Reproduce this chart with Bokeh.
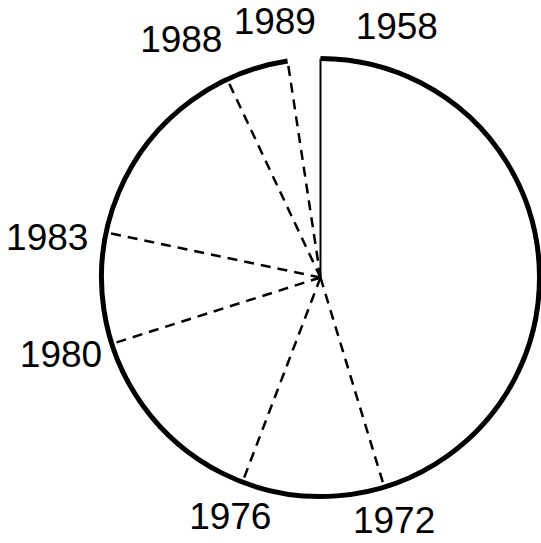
import numpy as np
from bokeh.plotting import figure
from bokeh.models import Range1d, ColumnDataSource
from bokeh.core.properties import value
from bokeh.embed import file_html
from bokeh.resources import INLINE

# ---- data ----
years = ["1958", "1972", "1976", "1980", "1983", "1988", "1989"]
shares = [45.3, 10.5, 14.3, 8.2, 14.7, 4.6, 2.4]   # last slice (1989 on) is left undrawn

# ---- layout / style (not data) ----
R = 219.0
FONT_PX = 37
W, H = 541, 543
CX, CY = 320, 277            # pie centre in figure pixels (from top-left)
# small per-label pixel nudges (x right, y down) to mimic the original label placement
label_nudge = {"1958": (-6, 3), "1972": (-1, -3), "1976": (2, -3), "1980": (2, -7),
               "1983": (-5, 16), "1988": (-28, -2), "1989": (-8, -8)}

total = float(sum(shares))
bounds = np.concatenate([[0.0], np.cumsum(shares)]) / total * 2 * np.pi  # clockwise from 12 o'clock
starts = bounds[:-1]
end_visible = bounds[-2]

p = figure(width=W, height=H, x_range=Range1d(-CX, W - CX), y_range=Range1d(-(H - CY), CY),
           output_backend="svg", toolbar_location=None, min_border=0)
p.axis.visible = False
p.grid.visible = False
p.outline_line_color = None
p.background_fill_color = "white"
p.border_fill_color = "white"

# outer rim (visible slices only)
p.arc(x=0, y=0, radius=R, start_angle=np.pi / 2, end_angle=np.pi / 2 - end_visible,
      direction="clock", line_width=5, line_color="black")

# solid start edge at 12 o'clock
p.segment(x0=[0], y0=[0], x1=[R * np.sin(starts[0])], y1=[R * np.cos(starts[0])],
          line_color="black", line_width=2)

# dashed inner boundaries
inner = bounds[1:-1]
seg = ColumnDataSource(dict(x0=np.zeros(len(inner)), y0=np.zeros(len(inner)),
                            x1=(R - 2) * np.sin(inner), y1=(R - 2) * np.cos(inner)))
p.segment(x0="x0", y0="y0", x1="x1", y1="y1", source=seg, line_color="black",
          line_width=2.5, line_dash="10 7")

# labels at each slice start, pushed just outside the rim
pad = 12
lx, ly = [], []
for lab, th in zip(years, starts):
    w = 0.556 * FONT_PX * len(lab)
    h = 28
    s, c = np.sin(th), np.cos(th)
    if abs(s) < 1e-6:
        # label of the start edge sits to the right of the top
        x, y = w, R + pad + h / 2 + 10
    else:
        r = R + pad + (w / 2) * abs(s) + (h / 2) * abs(c)
        x, y = r * s, r * c
    dx, dy = label_nudge.get(lab, (0, 0))
    lx.append(x + dx)
    ly.append(y - dy)
lab_src = ColumnDataSource(dict(x=lx, y=ly, t=years))
p.text(x="x", y="y", text="t", source=lab_src, text_align="center", text_baseline="middle",
       text_font=value("Liberation Sans"), text_font_size=f"{FONT_PX}px", text_color="black")

open("out.html", "w").write(file_html(p, INLINE))
